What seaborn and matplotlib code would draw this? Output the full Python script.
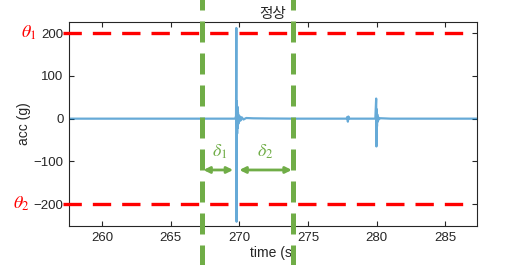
import matplotlib
matplotlib.use("Agg")
import matplotlib.pyplot as plt
import seaborn as sns
import pandas as pd

# ---- data ----
time_s = [257.6, 269.70, 269.76, 269.78, 269.80, 269.82, 269.84, 269.86, 269.88, 269.90,
          269.93, 269.96, 270.00, 270.05, 270.10, 270.18, 270.30, 270.50, 271.0, 272.0,
          274.0, 277.80, 277.86, 277.90, 277.94, 278.00, 279.90, 279.96, 279.98, 280.00,
          280.02, 280.04, 280.07, 280.10, 280.15, 280.25, 281.0, 287.3]
acc_g = [0, 0, 6, 212, -241, 40, -35, 28, -22, 15,
         -12, 8, -6, 5, -4, 3, -2, 1.5, 0.8, 0.4,
         0, 0, 4, -7, 5, 0, 0, 47, -65, 22,
         -18, 10, -7, 4, -2, 1, 0, 0]
theta_levels = [200, -200]
theta_labels = [r"$\theta_1$", r"$\theta_2$"]
window_lines = [267.3, 273.9]
spike_time = 269.8
arrow_y = -120
delta_labels = [r"$\delta_1$", r"$\delta_2$"]
x_ticks = [260, 265, 270, 275, 280, 285]
y_ticks = [-200, -100, 0, 100, 200]
title_text = "정상"

df = pd.DataFrame({"time": time_s, "acc": acc_g})

sns.set_theme(style="white")
plt.rcParams["font.family"] = ["Liberation Sans", "Noto Sans CJK KR", "DejaVu Sans"]
plt.rcParams["mathtext.fontset"] = "stix"

fig = plt.figure(figsize=(5.28, 2.65), dpi=100)
ax = fig.add_axes([69/528, 1-226/265, (477-69)/528, (226-22)/265])

sns.lineplot(data=df, x="time", y="acc", ax=ax, color="#0072BD", lw=1.6,
             alpha=0.6, estimator=None, sort=False, zorder=2)

ax.set_xlim(257.6, 287.3)
ax.set_ylim(-251, 226)
ax.set_xticks(x_ticks)
ax.set_yticks(y_ticks)
ax.tick_params(direction="in", length=3.5, width=0.8, colors="#262626",
               labelsize=9.5, top=True, right=True, bottom=True, left=True, pad=4)
for sp in ax.spines.values():
    sp.set_color("#262626")
    sp.set_linewidth(0.8)
    sp.set_visible(True)

ax.set_xlabel("time (s)", fontsize=10, color="#262626", labelpad=2)
ax.set_ylabel("acc (g)", fontsize=10, color="#262626", labelpad=2)
ax.set_title(title_text, fontsize=10.5, color="#262626", pad=3,
             family=["Noto Sans CJK KR", "DejaVu Sans"])

red = "#FF0000"
for lvl, lab, off in zip(theta_levels, theta_labels, [-23, -28]):
    ax.axhline(lvl, xmin=-0.015, xmax=0.985, color=red, lw=2.4, ls=(0, (5.5, 3.3)),
               clip_on=False, zorder=3)
    ax.annotate(lab, xy=(0, lvl), xycoords=("axes fraction", "data"),
                xytext=(off, 0), textcoords="offset points", ha="right", va="center",
                color=red, fontsize=13)

green = "#70AD47"
for xv in window_lines:
    ax.axvline(xv, ymin=-0.2, ymax=1.12, color=green, lw=3.6, ls=(0, (4.2, 2.2)),
               clip_on=False, zorder=4)

arrow_kw = dict(arrowstyle="<|-|>", color=green, lw=2.0, mutation_scale=9,
                shrinkA=0, shrinkB=0)
ax.annotate("", xy=(window_lines[0] + 0.08, arrow_y), xytext=(spike_time - 0.25, arrow_y),
            arrowprops=arrow_kw, zorder=5)
ax.annotate("", xy=(spike_time + 0.2, arrow_y), xytext=(window_lines[1] - 0.08, arrow_y),
            arrowprops=arrow_kw, zorder=5)
ax.text((window_lines[0] + spike_time) / 2, -77, delta_labels[0], color=green,
        fontsize=13, ha="center", va="center")
ax.text((spike_time + window_lines[1]) / 2, -77, delta_labels[1], color=green,
        fontsize=13, ha="center", va="center")

fig.savefig("out.png", dpi=100, facecolor="white")
